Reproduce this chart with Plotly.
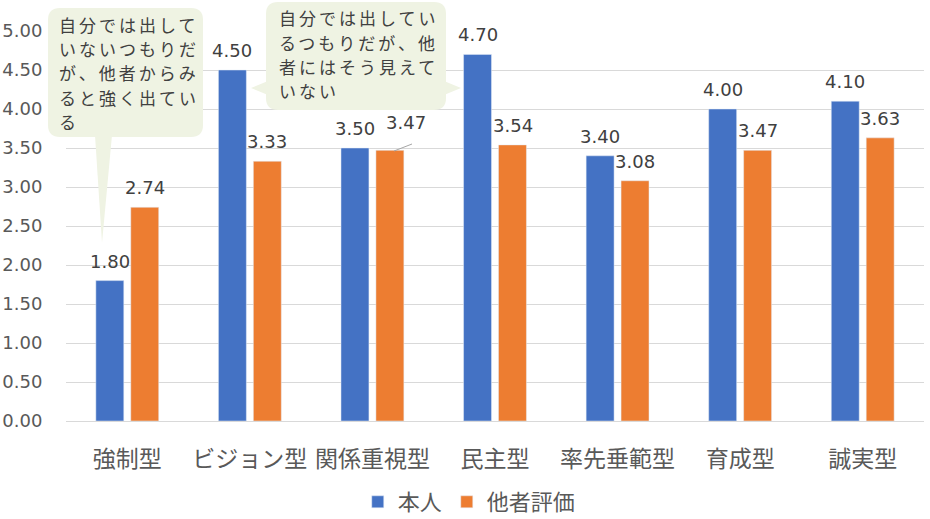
import plotly.graph_objects as go

# === Data ===
categories = ['強制型', 'ビジョン型', '関係重視型', '民主型', '率先垂範型', '育成型', '誠実型']
self_score = [1.80, 4.50, 3.50, 4.70, 3.40, 4.00, 4.10]
others_score = [2.74, 3.33, 3.47, 3.54, 3.08, 3.47, 3.63]
series_names = ['本人', '他者評価']
y_ticks = [0, 0.5, 1, 1.5, 2, 2.5, 3, 3.5, 4, 4.5, 5]

note1_lines = ['自分では出して', 'いないつもりだ', 'が、他者からみ', 'ると強く出てい', 'る']
note2_lines = ['自分では出してい', 'るつもりだが、他', '者にはそう見えて', 'いない']

# === Layout helpers (pixel -> paper) ===
W, H = 930, 519
L, R, T, B = 66, 6, 31, 98
PW, PH = W - L - R, H - T - B


def px(x):
    return (x - L) / PW


def py(y):
    return (H - B - y) / PH


def rounded_rect(x0, y0, x1, y1, r):
    pts = [
        f"M {px(x0 + r)} {py(y0)}",
        f"L {px(x1 - r)} {py(y0)}",
        f"Q {px(x1)} {py(y0)} {px(x1)} {py(y0 + r)}",
        f"L {px(x1)} {py(y1 - r)}",
        f"Q {px(x1)} {py(y1)} {px(x1 - r)} {py(y1)}",
        f"L {px(x0 + r)} {py(y1)}",
        f"Q {px(x0)} {py(y1)} {px(x0)} {py(y1 - r)}",
        f"L {px(x0)} {py(y0 + r)}",
        f"Q {px(x0)} {py(y0)} {px(x0 + r)} {py(y0)}",
        "Z",
    ]
    return " ".join(pts)


def poly(points):
    return "M " + " L ".join(f"{px(x)} {py(y)}" for x, y in points) + " Z"


NOTE_FILL = '#EFF3E3'
TXT = '#404040'
NUM_FONT = 'DejaVu Sans'
JP_FONT = 'Noto Sans CJK JP'

fig = go.Figure()
fig.add_trace(go.Bar(x=categories, y=self_score, name=series_names[0], marker_color='#4472C4'))
fig.add_trace(go.Bar(x=categories, y=others_score, name=series_names[1], marker_color='#ED7D31'))

# === Value labels ===
annotations = []
for i, c in enumerate(categories):
    annotations.append(dict(x=c, y=self_score[i], text=f"{self_score[i]:.2f}", xref='x', yref='y',
                            showarrow=False, xshift=-17.5, yshift=7, yanchor='bottom',
                            font=dict(size=18, color=TXT, family=NUM_FONT)))
    dx, dy = 0, 7
    if i == 2:
        dx, dy = 16, 15
    annotations.append(dict(x=c, y=others_score[i], text=f"{others_score[i]:.2f}", xref='x', yref='y',
                            showarrow=False, xshift=17.5 + dx, yshift=dy, yanchor='bottom',
                            font=dict(size=18, color=TXT, family=NUM_FONT)))

# === Callout texts ===
for k, line in enumerate(note1_lines):
    annotations.append(dict(x=px(57), y=py(24 + k * 24.5), xref='paper', yref='paper',
                            text=f'<span style="letter-spacing:3px">{line}</span>',
                            showarrow=False, xanchor='left', yanchor='middle',
                            font=dict(size=17, color=TXT, family=JP_FONT)))
for k, line in enumerate(note2_lines):
    annotations.append(dict(x=px(277), y=py(18 + k * 24), xref='paper', yref='paper',
                            text=f'<span style="letter-spacing:3px">{line}</span>',
                            showarrow=False, xanchor='left', yanchor='middle',
                            font=dict(size=17, color=TXT, family=JP_FONT)))

shapes = [
    dict(type='path', xref='paper', yref='paper', path=rounded_rect(48, 8, 203, 137, 12),
         fillcolor=NOTE_FILL, line=dict(width=0), layer='above'),
    dict(type='path', xref='paper', yref='paper', path=poly([(95, 135), (112, 135), (102, 243)]),
         fillcolor=NOTE_FILL, line=dict(width=0), layer='above'),
    dict(type='path', xref='paper', yref='paper', path=rounded_rect(266, 2, 446, 110, 12),
         fillcolor=NOTE_FILL, line=dict(width=0), layer='above'),
    dict(type='path', xref='paper', yref='paper', path=poly([(268, 81), (251, 88), (268, 95)]),
         fillcolor=NOTE_FILL, line=dict(width=0), layer='above'),
    dict(type='path', xref='paper', yref='paper', path=poly([(444, 81), (461, 88), (444, 95)]),
         fillcolor=NOTE_FILL, line=dict(width=0), layer='above'),
    # leader line for 3.47
    dict(type='line', xref='paper', yref='paper', x0=px(394), y0=py(151), x1=px(412), y1=py(144),
         line=dict(color='#A6A6A6', width=1)),
]

fig.update_layout(
    width=W, height=H,
    margin=dict(l=L, r=R, t=T, b=B, autoexpand=False),
    plot_bgcolor='white', paper_bgcolor='white',
    barmode='group', bargap=0.43, bargroupgap=0.2,
    font=dict(family=JP_FONT, color='#595959'),
    xaxis=dict(tickfont=dict(size=23, color='#595959', family=JP_FONT),
               ticks='outside', ticklen=17, tickcolor='rgba(0,0,0,0)',
               showline=True, linecolor='#D9D9D9', linewidth=1, automargin=False),
    yaxis=dict(range=[0, 5], tickvals=y_ticks, tickformat='.2f',
               tickfont=dict(size=18, color='#595959', family=NUM_FONT),
               showgrid=True, gridcolor='#D9D9D9', gridwidth=1, zeroline=False,
               ticks='outside', ticklen=19, tickcolor='rgba(0,0,0,0)', automargin=False),
    legend=dict(orientation='h', x=0.47, xanchor='center', y=py(502), yanchor='middle',
                font=dict(size=22, color='#595959', family=JP_FONT),
                itemwidth=30, tracegroupgap=0),
    annotations=annotations,
    shapes=shapes,
)

# page body has an 8px default margin; remove it so the figure sits at the corner
fig.write_html("out.html", config={'displayModeBar': False},
               post_script="document.body.style.margin='0';")
